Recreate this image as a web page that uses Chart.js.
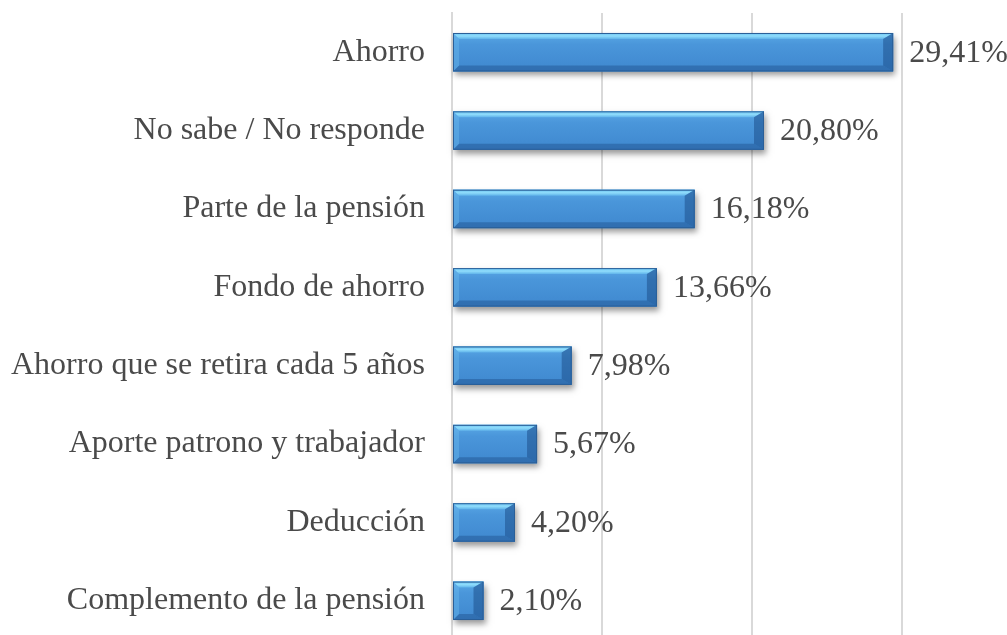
<!DOCTYPE html>
<html>
<head>
<meta charset="utf-8">
<script src="https://cdn.jsdelivr.net/npm/chart.js@4/dist/chart.umd.min.js"></script>
<style>
  html, body { margin: 0; padding: 0; background: #fff; overflow: hidden; }
  #wrap { width: 1007px; height: 640px; position: relative; }
</style>
</head>
<body>
<div id="wrap"><canvas id="chart"></canvas></div>
<script>
const categories = [
  'Ahorro',
  'No sabe / No responde',
  'Parte de la pensión',
  'Fondo de ahorro',
  'Ahorro que se retira cada 5 años',
  'Aporte patrono y trabajador',
  'Deducción',
  'Complemento de la pensión'
];
const values = [29.41, 20.80, 16.18, 13.66, 7.98, 5.67, 4.20, 2.10];

const FONT = { family: "'Liberation Serif', 'Times New Roman', serif", size: 32 };
const TEXT = '#4a4a4a';
const GRID = '#d9d9d9';

const fmt = v => v.toFixed(2).replace('.', ',') + '%';

// bevelled bars with a soft shadow, like the office 3D style
const bevelBars = {
  id: 'bevelBars',
  afterDatasetsDraw(chart) {
    const ctx = chart.ctx;
    const meta = chart.getDatasetMeta(0);
    meta.data.forEach((bar, i) => {
      const p = bar.getProps(['x', 'y', 'base', 'height'], true);
      const l = Math.min(p.base, p.x), r = Math.max(p.base, p.x);
      const t = p.y - p.height / 2, b = p.y + p.height / 2;
      const bw = Math.min(6, (r - l) / 2);
      const rw = Math.min(10, (r - l) / 2);

      ctx.save();
      ctx.shadowColor = 'rgba(0,0,0,0.4)';
      ctx.shadowBlur = 6;
      ctx.shadowOffsetX = 2;
      ctx.shadowOffsetY = 4;
      ctx.fillStyle = '#4792d6';
      ctx.fillRect(l, t, r - l, b - t);
      ctx.restore();

      const g = ctx.createLinearGradient(0, t, 0, b);
      g.addColorStop(0, '#5aa8e6');
      g.addColorStop(0.3, '#4a96da');
      g.addColorStop(1, '#3f88cf');
      ctx.fillStyle = g;
      ctx.fillRect(l, t, r - l, b - t);

      const poly = (pts, col) => {
        ctx.beginPath();
        ctx.moveTo(pts[0][0], pts[0][1]);
        pts.slice(1).forEach(q => ctx.lineTo(q[0], q[1]));
        ctx.closePath();
        ctx.fillStyle = col;
        ctx.fill();
      };
      // top highlight
      const tg = ctx.createLinearGradient(0, t, 0, t + bw);
      tg.addColorStop(0, '#6cc3f2');
      tg.addColorStop(0.5, '#8fdcfb');
      tg.addColorStop(1, '#5fb3ea');
      poly([[l, t], [r, t], [r - rw, t + bw], [l + bw, t + bw]], tg);
      // bottom shade
      poly([[l, b], [r, b], [r - rw, b - bw], [l + bw, b - bw]], 'rgba(30,80,140,0.45)');
      // right end
      poly([[r, t], [r, b], [r - rw, b - bw], [r - rw, t + bw]], 'rgba(30,80,140,0.55)');
      // left end
      poly([[l, t], [l, b], [l + bw, b - bw], [l + bw, t + bw]], 'rgba(110,190,240,0.4)');

      ctx.strokeStyle = '#2a5f98';
      ctx.lineWidth = 1;
      ctx.strokeRect(l + 0.5, t + 0.5, r - l - 1, b - t - 1);

      ctx.fillStyle = TEXT;
      ctx.font = FONT.size + 'px ' + FONT.family;
      ctx.textAlign = 'left';
      ctx.textBaseline = 'middle';
      ctx.fillText(fmt(values[i]), r + 16, p.y + 1);
    });
  }
};

new Chart(document.getElementById('chart'), {
  type: 'bar',
  data: {
    labels: categories,
    datasets: [{
      data: values,
      backgroundColor: 'rgba(0,0,0,0)',
      borderWidth: 0,
      barPercentage: 0.49,
      categoryPercentage: 1
    }]
  },
  options: {
    indexAxis: 'y',
    responsive: true,
    maintainAspectRatio: false,
    animation: false,
    layout: { padding: { top: 13, right: 0, bottom: 0, left: 0 } },
    plugins: {
      legend: { display: false },
      tooltip: { enabled: false }
    },
    scales: {
      x: {
        min: 0,
        max: 37,
        ticks: { display: false, stepSize: 10 },
        grid: { color: GRID, lineWidth: 2, drawTicks: false },
        border: { display: false },
        afterBuildTicks: s => { s.ticks = s.ticks.filter(t => t.value % 10 === 0); },
        afterFit: s => { s.height = 0; }
      },
      y: {
        ticks: { color: TEXT, font: FONT, padding: 27 },
        grid: { display: false, drawTicks: false },
        border: { color: GRID, width: 2 },
        afterFit: s => { s.width = 452; s.paddingTop = 0; s.paddingBottom = 0; }
      }
    }
  },
  plugins: [bevelBars]
});
</script>
</body>
</html>
